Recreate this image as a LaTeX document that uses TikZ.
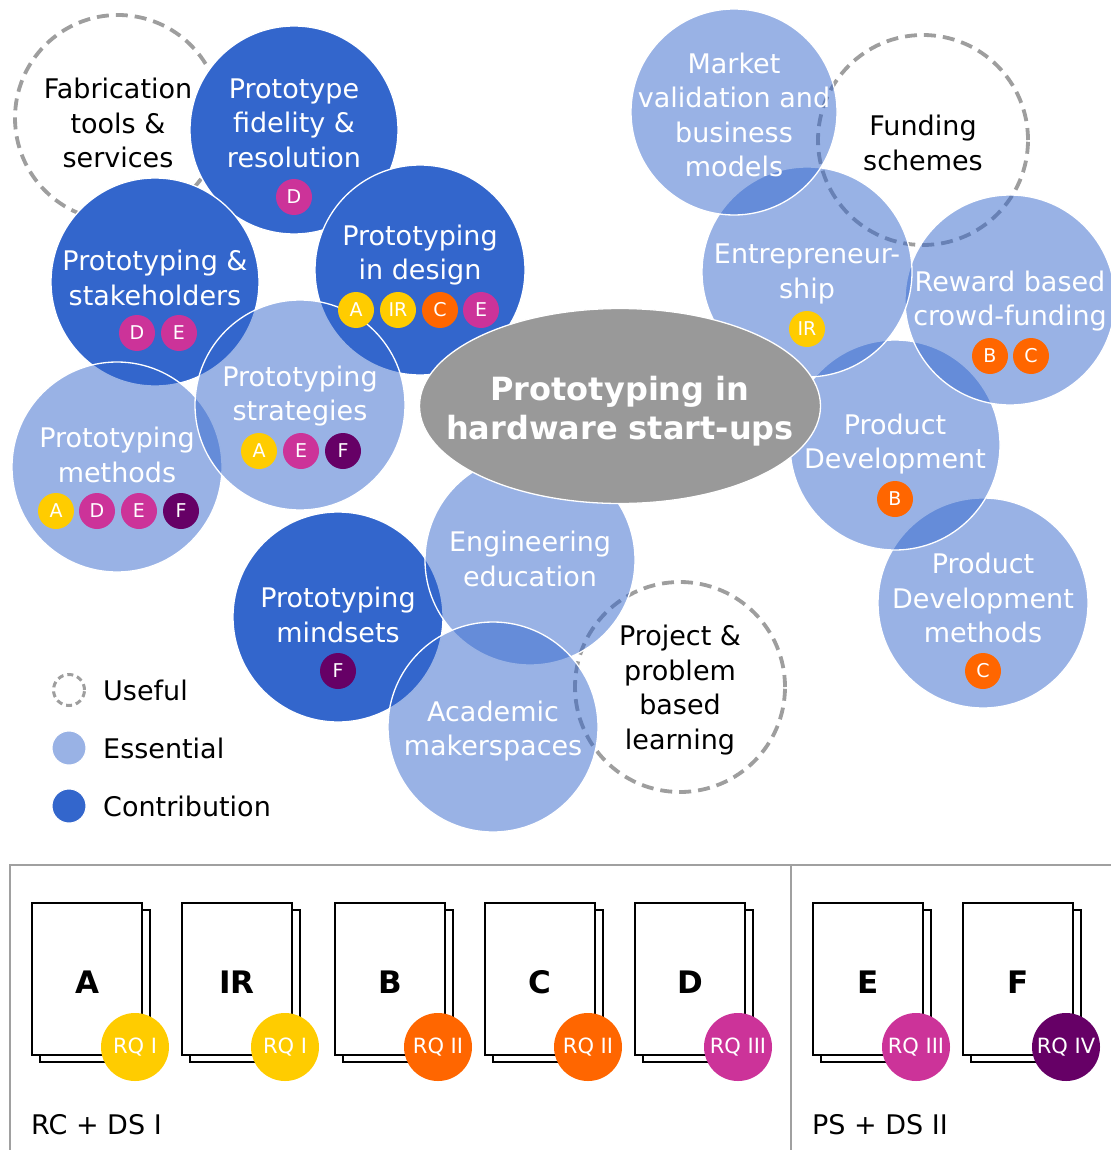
\documentclass[tikz,border=0pt]{standalone}
\usepackage{fontspec}
\setmainfont{DejaVu Sans}
\usetikzlibrary{shapes.geometric}
\definecolor{cblue}{HTML}{3366CC}
\definecolor{egray}{HTML}{999999}
\definecolor{dgray}{HTML}{9E9E9E}
\definecolor{pgray}{HTML}{A0A0A0}
\definecolor{cyel}{HTML}{FFCC00}
\definecolor{corg}{HTML}{FF6600}
\definecolor{cmag}{HTML}{CC3399}
\definecolor{cpur}{HTML}{660066}
\tikzset{
  topic/.style={circle, minimum size=210pt, inner sep=0pt, draw=white, line width=1.3pt},
  essential/.style={topic, fill=cblue, fill opacity=0.5},
  contrib/.style={topic, fill=cblue},
  useful/.style={circle, minimum size=210pt, inner sep=0pt, draw=dgray, fill=white,
    line width=3.8pt, dash pattern=on 12pt off 7pt},
  lbl/.style={font=\fontsize{27}{34.5}\selectfont, text=white, align=center, inner sep=0pt},
  dlbl/.style={lbl, text=black},
  badge/.style={circle, minimum size=36pt, inner sep=0pt, text=white,
    font=\fontsize{19}{19}\selectfont},
  bA/.style={badge, fill=cyel},
  bB/.style={badge, fill=corg},
  bD/.style={badge, fill=cmag},
  bF/.style={badge, fill=cpur},
  page/.style={rectangle, draw=black, line width=1.6pt, fill=white,
    minimum width=110pt, minimum height=152pt, inner sep=0pt},
  doclet/.style={font=\bfseries\fontsize{31}{31}\selectfont, inner sep=0pt},
  rq/.style={circle, minimum size=68pt, inner sep=0pt, text=white,
    font=\fontsize{21}{21}\selectfont},
  panel/.style={draw=pgray, line width=2.6pt},
  legtxt/.style={font=\fontsize{27}{27}\selectfont, anchor=west, inner sep=0pt},
}
\begin{document}
\begin{tikzpicture}[x=1pt, y=-1pt]
\useasboundingbox (0,0) rectangle (1110,1150);

% useful topics (dashed), lowest layer
\node[useful, minimum size=206pt] (fab) at (118,118) {};
\node[useful] (fund) at (923,140) {};
\node[useful] (pbl) at (680,687) {};

% contribution topics
\node[contrib, minimum size=208pt] (fid) at (294,130) {};
\node[contrib] (des) at (420,270) {};
\node[contrib, minimum size=208pt] (stk) at (155,282) {};
\node[contrib] (mnd) at (338,617) {};

% essential topics
\node[essential] (pdm) at (983,603) {};
\node[essential] (pd) at (895,445) {};
\node[essential] (rwd) at (1010,300) {};
\node[essential] (ent) at (807,272) {};
\node[essential, minimum size=206pt] (mkt) at (734,112) {};
\node[essential] (eng) at (530,560) {};
\node[essential] (mak) at (493,727) {};
\node[essential] (met) at (117,467) {};
\node[essential] (str) at (300,405) {};

% central theme
\node[ellipse, minimum width=401pt, minimum height=195pt, inner sep=0pt,
      fill=egray, draw=white, line width=1.3pt] (core) at (620,406) {};
\node[font=\bfseries\fontsize{32}{39}\selectfont, text=white, align=center]
      (coretxt) at (620,411) {Prototyping in\\hardware start-ups};

% topic labels
\node[dlbl] (fabtxt) at (118,123) {Fabrication\\tools \&\\services};
\node[lbl] (fidtxt) at (294,123) {Prototype\\fidelity \&\\resolution};
\node[lbl] (destxt) at (420,255) {Prototyping\\in design};
\node[lbl] (stktxt) at (155,278) {Prototyping \&\\stakeholders};
\node[lbl] (strtxt) at (300,396) {Prototyping\\strategies};
\node[lbl] (mettxt) at (117,455) {Prototyping\\methods};
\node[lbl] (engtxt) at (530,559) {Engineering\\education};
\node[lbl] (mndtxt) at (338,615) {Prototyping\\mindsets};
\node[lbl] (maktxt) at (493,731) {Academic\\makerspaces};
\node[dlbl] (pbltxt) at (680,690) {Project \&\\problem\\based\\learning};
\node[lbl] (mkttxt) at (734,115) {Market\\validation and\\business\\models};
\node[dlbl] (fundtxt) at (923,143) {Funding\\schemes};
\node[lbl] (enttxt) at (807,274) {Entrepreneur-\\ship};
\node[lbl] (rwdtxt) at (1010,301) {Reward based\\crowd-funding};
\node[lbl] (pdtxt) at (895,444) {Product\\Development};
\node[lbl] (pdmtxt) at (983,598) {Product\\Development\\methods};

% paper badges
\node[bD] (fidD) at (294,197) {D};
\node[bA] (desA) at (356,310) {A};
\node[bA] (desIR) at (398,310) {IR};
\node[bB] (desC) at (440,310) {C};
\node[bD] (desE) at (481,310) {E};
\node[bD] (stkD) at (137,333) {D};
\node[bD] (stkE) at (179,333) {E};
\node[bA] (strA) at (259,451) {A};
\node[bD] (strE) at (301,451) {E};
\node[bF] (strF) at (343,451) {F};
\node[bA] (metA) at (56,511) {A};
\node[bD] (metD) at (97,511) {D};
\node[bD] (metE) at (139,511) {E};
\node[bF] (metF) at (181,511) {F};
\node[bF] (mndF) at (338,671) {F};
\node[bA] (entIR) at (807,329) {IR};
\node[bB] (rwdB) at (990,356) {B};
\node[bB] (rwdC) at (1031,356) {C};
\node[bB] (pdB) at (895,499) {B};
\node[bB] (pdmC) at (983,671) {C};

% legend
\node[circle, minimum size=31pt, inner sep=0pt, draw=dgray, line width=3pt,
      dash pattern=on 6pt off 4pt] (legU) at (69,690) {};
\node[essential, minimum size=34pt, line width=1pt] (legE) at (69,748) {};
\node[contrib, minimum size=34pt, line width=1pt] (legC) at (69,806) {};
\node[legtxt] (legUt) at (103,690) {Useful};
\node[legtxt] (legEt) at (103,748) {Essential};
\node[legtxt] (legCt) at (103,806) {Contribution};

% bottom panel frame
\draw[panel] (10,1160) -- (10,865) -- (1120,865);
\draw[panel] (791,865) -- (791,1160);

% papers
\foreach \n/\x/\lab/\rqc/\rqt in {A/32/A/cyel/RQ I, IR/182/IR/cyel/RQ I,
    B/335/B/corg/RQ II, C/485/C/corg/RQ II, D/635/D/cmag/RQ III,
    E/813/E/cmag/RQ III, F/963/F/cpur/RQ IV}{
  \node[page] (back\n) at (\x+63,986) {};
  \node[page] (front\n) at (\x+55,979) {};
  \node[doclet] (let\n) at (\x+55,982) {\lab};
  \node[rq, fill=\rqc] (rq\n) at (\x+103,1047) {\rqt};
}

\node[legtxt] (rcds) at (31,1125) {RC + DS I};
\node[legtxt] (psds) at (812,1125) {PS + DS II};
\end{tikzpicture}
\end{document}
